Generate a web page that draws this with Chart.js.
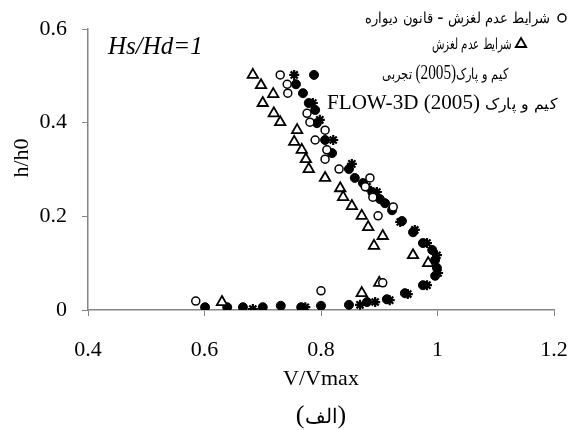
<!DOCTYPE html>
<html>
<head>
<meta charset="utf-8">
<script src="https://cdn.jsdelivr.net/npm/chart.js@4.4.1/dist/chart.umd.min.js"></script>
<style>
    /* Persian glyphs come from DejaVu Sans, scaled down to sit with the serif text */
    @font-face {
        font-family: "FaText";
        src: local("DejaVu Sans");
        unicode-range: U+0600-06FF, U+FB50-FDFF, U+FE70-FEFF;
        size-adjust: 76%;
    }
    html, body { margin: 0; padding: 0; background: #fff; }
    #wrap { width: 579px; height: 430px; }
</style>
</head>
<body>
<div id="wrap"><canvas id="profile-chart" width="579" height="430"></canvas></div>
<script>
// velocity profiles, V/Vmax against h/h0
var wallLawV = [0.730, 0.742, 0.743, 0.776, 0.781, 0.807, 0.790, 0.810, 0.807, 0.831, 0.884, 0.876, 0.889, 0.924, 0.898, 0.906, 0.800, 0.585];
var wallLawH = [0.502, 0.482, 0.463, 0.420, 0.401, 0.384, 0.363, 0.342, 0.322, 0.301, 0.282, 0.263, 0.241, 0.220, 0.201, 0.058, 0.041, 0.019];

var noSlipV = [0.683, 0.697, 0.718, 0.700, 0.719, 0.730, 0.759, 0.754, 0.767, 0.774, 0.779, 0.807, 0.833, 0.838, 0.853, 0.870, 0.881, 0.906, 0.891, 0.958, 0.984, 0.900, 0.870, 0.630];
var noSlipH = [0.502, 0.480, 0.461, 0.442, 0.420, 0.401, 0.384, 0.359, 0.342, 0.322, 0.301, 0.282, 0.260, 0.241, 0.222, 0.201, 0.177, 0.158, 0.137, 0.117, 0.100, 0.058, 0.036, 0.017];

var expV = [0.788, 0.757, 0.769, 0.779, 0.790, 0.793, 0.807, 0.819, 0.848, 0.858, 0.872, 0.888, 0.901, 0.910, 0.922, 0.939, 0.958, 0.975, 0.991, 0.996, 0.999, 0.996, 0.975, 0.944, 0.913, 0.879, 0.848, 0.800, 0.766, 0.731, 0.700, 0.666, 0.639, 0.601];
var expH = [0.502, 0.482, 0.463, 0.442, 0.427, 0.399, 0.363, 0.335, 0.301, 0.282, 0.271, 0.252, 0.237, 0.228, 0.213, 0.190, 0.166, 0.143, 0.128, 0.107, 0.090, 0.073, 0.053, 0.036, 0.023, 0.017, 0.011, 0.009, 0.006, 0.009, 0.006, 0.006, 0.006, 0.006];

var flowV = [0.754, 0.786, 0.798, 0.821, 0.853, 0.879, 0.896, 0.936, 0.961, 0.982, 0.999, 1.001, 0.982, 0.949, 0.918, 0.893, 0.867, 0.773, 0.683];
var flowH = [0.502, 0.442, 0.406, 0.363, 0.312, 0.263, 0.252, 0.188, 0.171, 0.143, 0.117, 0.079, 0.053, 0.034, 0.021, 0.017, 0.011, 0.006, 0.002];

var seriesNames = [
    "شرایط عدم لغزش - قانون دیواره",
    "شرایط عدم لغزش",
    "کیم و پارک(2005) تجربی",
    "FLOW-3D (2005) کیم و پارک"
];
var xTicks = [0.4, 0.6, 0.8, 1, 1.2];
var yTicks = [0, 0.2, 0.4, 0.6];

var serif = "'Liberation Serif', FaText, 'DejaVu Sans', serif";
var axisGrey = "#868686";

function toPoints(xs, ys) {
    return xs.map(function (x, i) { return {x: x, y: ys[i]}; });
}

// legend rows: text box (left, width), vertical centre, key marker x
var legendRows = [
    {left: 365, width: 185, y: 18, markX: 562},
    {left: 432, width: 80, y: 44, markX: 521},
    {left: 382, width: 126, y: 74, markX: null},
    {left: 327, width: 230, y: 104, markX: null}
];

// squeeze or stretch a line of text into a given width
function fitText(ctx, text, left, y, width) {
    var w = ctx.measureText(text).width;
    ctx.save();
    ctx.translate(left, y);
    ctx.scale(width / w, 1);
    ctx.fillText(text, 0, 0);
    ctx.restore();
}

var annotations = {
    id: "annotations",
    afterDraw: function (chart) {
        var ctx = chart.ctx;
        var area = chart.chartArea;
        ctx.save();
        ctx.fillStyle = "#000";
        ctx.textBaseline = "middle";
        ctx.direction = "ltr";

        ctx.font = "italic 25px " + serif;
        ctx.textAlign = "left";
        ctx.fillText("Hs/Hd=1", 108, 47);

        ctx.font = "20px " + serif;
        legendRows.forEach(function (row, i) {
            ctx.textAlign = "left";
            ctx.fillStyle = "#000";
            fitText(ctx, seriesNames[i], row.left, row.y, row.width);
            if (row.markX !== null) {
                var ds = chart.data.datasets[i];
                ctx.strokeStyle = ds.borderColor;
                ctx.fillStyle = ds.backgroundColor;
                ctx.lineWidth = ds.borderWidth;
                Chart.helpers.drawPoint(ctx, {
                    pointStyle: ds.pointStyle,
                    radius: ds.pointRadius,
                    borderWidth: ds.borderWidth,
                    rotation: 0
                }, row.markX, row.y);
            }
        });

        // y axis title
        ctx.fillStyle = "#000";
        ctx.font = "22px " + serif;
        ctx.textAlign = "center";
        ctx.translate(22, 158);
        ctx.rotate(-Math.PI / 2);
        ctx.fillText("h/h0", 0, 0);
        ctx.setTransform(1, 0, 0, 1, 0, 0);

        ctx.font = "26px " + serif;
        ctx.fillText("(الف)", (area.left + area.right) / 2, 416);
        ctx.restore();
    }
};

function drawChart() {
    new Chart(document.getElementById("profile-chart"), {
        type: "scatter",
        data: {
            datasets: [
                {
                    label: seriesNames[0],
                    data: toPoints(wallLawV, wallLawH),
                    pointStyle: "circle",
                    pointRadius: 4,
                    borderWidth: 1.5,
                    borderColor: "#000",
                    backgroundColor: "#fff"
                },
                {
                    label: seriesNames[1],
                    data: toPoints(noSlipV, noSlipH),
                    pointStyle: "triangle",
                    pointRadius: 6,
                    borderWidth: 1.8,
                    borderColor: "#000",
                    backgroundColor: "#fff"
                },
                {
                    label: seriesNames[2],
                    data: toPoints(expV, expH),
                    pointStyle: "circle",
                    pointRadius: 4.5,
                    borderWidth: 1,
                    borderColor: "#000",
                    backgroundColor: "#000"
                },
                {
                    label: seriesNames[3],
                    data: toPoints(flowV, flowH),
                    pointStyle: "star",
                    pointRadius: 5,
                    borderWidth: 2.2,
                    borderColor: "#000",
                    backgroundColor: "#000"
                }
            ]
        },
        options: {
            responsive: false,
            animation: false,
            layout: {padding: {top: 29, right: 25, left: 0, bottom: 0}},
            plugins: {
                legend: {display: false},
                tooltip: {enabled: false}
            },
            scales: {
                x: {
                    type: "linear",
                    min: 0.4,
                    max: 1.2,
                    afterBuildTicks: function (scale) {
                        scale.ticks = xTicks.map(function (v) { return {value: v}; });
                    },
                    afterFit: function (scale) {
                        scale.height = 120;
                        // keep the plot's right edge fixed whatever the label width
                        scale.paddingLeft = 0;
                        scale.paddingRight = 0;
                    },
                    grid: {drawOnChartArea: false, drawTicks: true, tickLength: 6, color: axisGrey},
                    border: {color: axisGrey, width: 1.5},
                    ticks: {
                        color: "#000",
                        padding: 21,
                        font: {family: serif, size: 22},
                        callback: function (v) { return String(v); }
                    },
                    title: {
                        display: true,
                        text: "V/Vmax",
                        color: "#000",
                        font: {family: serif, size: 22},
                        padding: {top: 0, bottom: 38}
                    }
                },
                y: {
                    type: "linear",
                    min: 0,
                    max: 0.6,
                    afterBuildTicks: function (scale) {
                        scale.ticks = yTicks.map(function (v) { return {value: v}; });
                    },
                    afterFit: function (scale) {
                        scale.width = 88;
                        scale.paddingTop = 0;
                        scale.paddingBottom = 0;
                    },
                    grid: {drawOnChartArea: false, drawTicks: true, tickLength: 6, color: axisGrey},
                    border: {color: axisGrey, width: 1.5},
                    ticks: {
                        color: "#000",
                        padding: 15,
                        font: {family: serif, size: 22},
                        callback: function (v) { return String(v); }
                    }
                }
            }
        },
        plugins: [annotations]
    });
}

document.fonts.load("20px FaText", "شرایط").then(drawChart, drawChart);
</script>
</body>
</html>
